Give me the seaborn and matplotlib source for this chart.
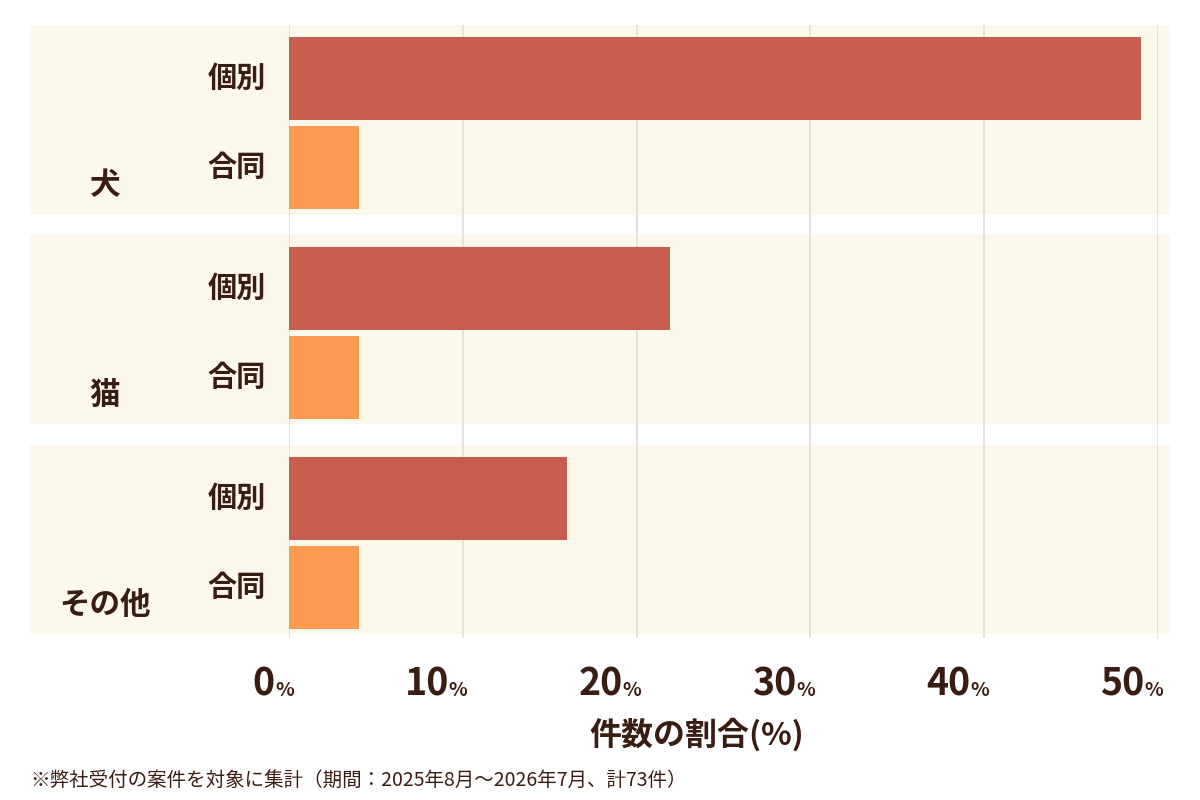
import numpy as np
import pandas as pd
import matplotlib
matplotlib.use("Agg")
import matplotlib.pyplot as plt
import matplotlib.transforms as mtransforms
from matplotlib.patches import Rectangle
import seaborn as sns

# ── data ────────────────────────────────────────────
animals  = ["犬", "猫", "その他"]
types    = ["個別", "合同"]
values   = [[49.0, 4.0], [21.9, 4.0], [16.0, 4.0]]   # % of cases
xticks   = [0, 10, 20, 30, 40, 50]
xlabel   = "件数の割合(%)"
footnote = "※弊社受付の案件を対象に集計（期間：2025年8月～2026年7月、計73件）"

# ── style ───────────────────────────────────────────
DARK   = "#3a1d12"
COLORS = {"個別": "#c85c4e", "合同": "#fd9b52"}
PANEL  = "#fdf8ec"
GROUP_STEP = 2.36

sns.set_theme(style="white")
plt.rcParams["font.family"] = ["Noto Sans CJK JP", "DejaVu Sans"]

rows = []
for gi, a in enumerate(animals):
    for ti, t in enumerate(types):
        rows.append({"animal": a, "type": t, "value": values[gi][ti],
                     "ypos": gi * GROUP_STEP + ti})
df = pd.DataFrame(rows)

fig = plt.figure(figsize=(12, 8), dpi=100)
fig.patch.set_facecolor("white")
ax = fig.add_axes([289 / 1200, 1 - 638 / 800, (1158 - 289) / 1200, (638 - 25) / 800])
ax.set_facecolor("none")

# background panels (extend across figure width)
trans = mtransforms.blended_transform_factory(fig.transFigure, ax.transData)
for gi in range(len(animals)):
    y0 = gi * GROUP_STEP - 0.6
    fig.add_artist(Rectangle((30 / 1200, y0), (1170 - 30) / 1200, 2.13,
                             transform=trans, facecolor=PANEL, edgecolor="none",
                             zorder=0))

for x in xticks:
    ax.axvline(x, color="#e2ddd3", lw=1.2, zorder=1)

sns.barplot(data=df, x="value", y="ypos", hue="type", palette=COLORS,
            orient="h", native_scale=True, width=0.93, dodge=False,
            saturation=1, legend=False, ax=ax, zorder=3)
for p in ax.patches:
    p.set_edgecolor("none")

ax.set_xlim(0, 50)
ax.set_ylim(6.29, -0.6)
for s in ax.spines.values():
    s.set_visible(False)
ax.set_xticks([])
ax.set_yticks([])
ax.set_xlabel("")
ax.set_ylabel("")

# row labels
for _, r in df.iterrows():
    ax.annotate(r["type"], xy=(0, r["ypos"]), xytext=(-52, 0),
                textcoords="offset pixels", ha="center", va="center",
                fontsize=21, fontweight="bold", color=DARK)

# animal labels
for gi, a in enumerate(animals):
    ax.annotate(a, xy=(0, gi * GROUP_STEP + 1.2), xycoords="data",
                xytext=(105 - 289, 0), textcoords="offset pixels",
                ha="center", va="center", fontsize=22, fontweight="bold",
                color=DARK)

# x tick labels: big number + small %
for x in xticks:
    ax.annotate(str(x), xy=(x, 0), xycoords=("data", "axes fraction"),
                xytext=(-14, -58), textcoords="offset pixels",
                ha="right", va="baseline", fontsize=27, fontweight="bold",
                color=DARK)
    ax.annotate("%", xy=(x, 0), xycoords=("data", "axes fraction"),
                xytext=(-14, -58), textcoords="offset pixels",
                ha="left", va="baseline", fontsize=14, fontweight="bold",
                color=DARK)

fig.text(697 / 1200, 1 - 735 / 800, xlabel, ha="center", va="center",
         fontsize=23, fontweight="bold", color=DARK)
fig.text(30 / 1200, 1 - 780 / 800, footnote, ha="left", va="center",
         fontsize=14, color=DARK)

fig.savefig("out.png", dpi=100)
plt.close(fig)
